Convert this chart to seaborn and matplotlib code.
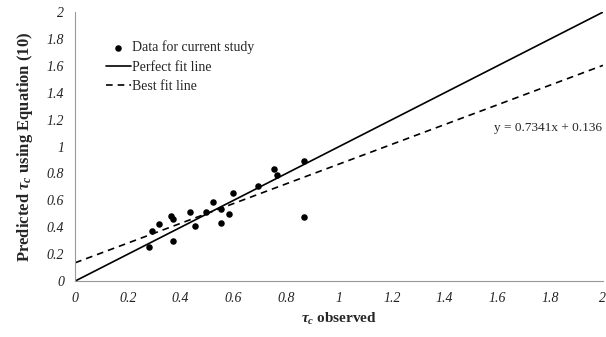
import matplotlib
matplotlib.use('Agg')
import matplotlib.pyplot as plt
import seaborn as sns
import numpy as np
import pandas as pd

# observed vs predicted tau_c
tau_observed = [0.278, 0.293, 0.317, 0.362, 0.369, 0.369, 0.436, 0.453, 0.494, 0.524,
                0.552, 0.553, 0.583, 0.598, 0.692, 0.754, 0.763, 0.867, 0.867]
tau_predicted = [0.251, 0.374, 0.424, 0.483, 0.463, 0.300, 0.511, 0.407, 0.513, 0.585,
                 0.429, 0.533, 0.496, 0.652, 0.706, 0.830, 0.788, 0.894, 0.478]
fit_slope = 0.7341
fit_intercept = 0.136
line_x = [0, 2]
ticks = [0, 0.2, 0.4, 0.6, 0.8, 1, 1.2, 1.4, 1.6, 1.8, 2]
tick_labels = ['0', '0.2', '0.4', '0.6', '0.8', '1', '1.2', '1.4', '1.6', '1.8', '2']

df = pd.DataFrame({'obs': tau_observed, 'pred': tau_predicted})
lines = pd.DataFrame({'x': line_x})
lines['perfect'] = lines['x']
lines['best'] = fit_slope * lines['x'] + fit_intercept

sns.set_style('white')
plt.rcParams['font.family'] = ['Liberation Serif', 'DejaVu Serif']
plt.rcParams['mathtext.fontset'] = 'custom'
plt.rcParams['mathtext.it'] = 'Liberation Serif:italic:bold'
plt.rcParams['mathtext.rm'] = 'Liberation Serif:bold'

fig = plt.figure(figsize=(6.06, 3.37), dpi=100)
ax = fig.add_axes([0.124, 0.166, 0.871, 0.798])

sns.scatterplot(data=df, x='obs', y='pred', ax=ax, color='black', s=22,
                edgecolor='black', linewidth=0, label='Data for current study', zorder=3)
sns.lineplot(data=lines, x='x', y='perfect', ax=ax, color='black', linewidth=1.2,
             label='Perfect fit line')
sns.lineplot(data=lines, x='x', y='best', ax=ax, color='black', linewidth=1.2,
             linestyle=(0, (4, 3)), label='Best fit line')

ax.set_xlim(0, 2)
ax.set_ylim(0, 2)
ax.set_xticks(ticks)
ax.set_yticks(ticks)
ax.set_xticklabels(tick_labels, fontstyle='italic', fontsize=10, color='#222222')
ax.set_yticklabels(tick_labels, fontstyle='italic', fontsize=10, color='#222222')
ax.tick_params(axis='both', direction='out', length=4, width=0.8, color='#999999', pad=4)

for side in ['top', 'right']:
    ax.spines[side].set_visible(False)
for side in ['left', 'bottom']:
    ax.spines[side].set_color('#999999')
    ax.spines[side].set_linewidth(0.8)

ax.set_xlabel(r'$\tau_c$ observed', fontsize=11, fontweight='bold', labelpad=4)
ax.set_ylabel(r'Predicted $\tau_c$ using Equation (10)', fontsize=12,
              fontweight='bold', labelpad=8)

ax.text(1.587, 1.14, 'y = 0.7341x + 0.136', fontsize=9.5, ha='left', va='center')

leg = ax.legend(loc='upper left', bbox_to_anchor=(0.04, 0.93), frameon=False, fontsize=10,
                handlelength=1.8, handletextpad=0.1, labelspacing=0.45, borderaxespad=0.3)

fig.savefig('out.png', dpi=100)
